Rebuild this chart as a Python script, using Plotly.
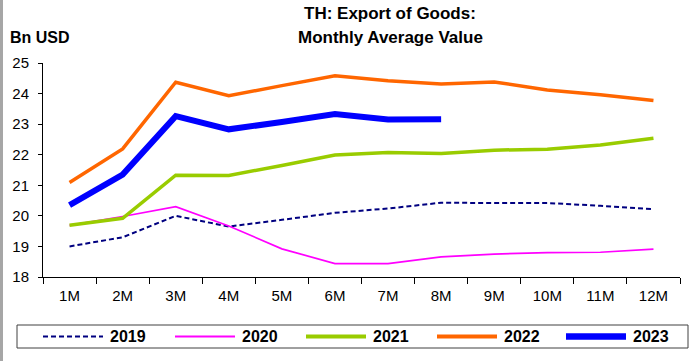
import plotly.graph_objects as go

months = ["1M", "2M", "3M", "4M", "5M", "6M", "7M", "8M", "9M", "10M", "11M", "12M"]

exp_2019 = [19.0, 19.3, 20.0, 19.65, 19.87, 20.1, 20.24, 20.43, 20.42, 20.42, 20.33, 20.22]
exp_2020 = [19.69, 19.98, 20.3, 19.67, 18.92, 18.44, 18.44, 18.66, 18.75, 18.8, 18.81, 18.91]
exp_2021 = [19.69, 19.92, 21.33, 21.32, 21.65, 21.99, 22.07, 22.04, 22.15, 22.18, 22.32, 22.54]
exp_2022 = [21.09, 22.19, 24.37, 23.93, 24.26, 24.58, 24.42, 24.31, 24.38, 24.12, 23.96, 23.77]
exp_2023 = [20.35, 21.35, 23.26, 22.83, 23.07, 23.33, 23.15, 23.16]

years = ["2019", "2020", "2021", "2022", "2023"]
series = [exp_2019, exp_2020, exp_2021, exp_2022, exp_2023]
colors = ["#000080", "#ff00ff", "#99cc00", "#ff6600", "#0000ff"]
widths = [2, 1.7, 3.5, 3.5, 6]
dashes = ["5px,3px", "solid", "solid", "solid", "solid"]

FONT = "Liberation Sans, Arial, sans-serif"

# figure geometry (pixels)
W, H = 691, 361
L, R, T, B = 43, 11, 63, 84
PW, PH = W - L - R, H - T - B


def px(x):
    return (x - L) / PW


def py(y):
    return (H - B - y) / PH


fig = go.Figure()
for name, vals, c, w, d in zip(years, series, colors, widths, dashes):
    fig.add_trace(go.Scatter(x=months[:len(vals)], y=vals, name=name, mode="lines",
                             line=dict(color=c, width=w, dash=d), showlegend=False))

shapes = [
    # frame edge on the left
    dict(type="line", xref="paper", yref="paper",
         x0=px(1.5), x1=px(1.5), y0=py(H), y1=py(0),
         line=dict(color="#a6a6a6", width=3)),
    # legend box
    dict(type="rect", xref="paper", yref="paper",
         x0=px(17), x1=px(688), y0=py(348), y1=py(325),
         line=dict(color="#404040", width=1), fillcolor="white"),
]
annotations = [
    dict(text="<b>TH: Export of Goods:</b>", xref="paper", yref="paper",
         x=px(390), y=py(14), xanchor="center", yanchor="middle",
         showarrow=False, font=dict(size=17)),
    dict(text="<b>Monthly Average Value</b>", xref="paper", yref="paper",
         x=px(390), y=py(37), xanchor="center", yanchor="middle",
         showarrow=False, font=dict(size=17)),
    dict(text="<b>Bn USD</b>", xref="paper", yref="paper",
         x=px(8), y=py(38), xanchor="left", yanchor="middle",
         showarrow=False, font=dict(size=16)),
]

# legend entries: sample line followed by the year
leg_x = [43, 175, 306, 437, 566]
leg_y = 336.5
for name, c, w, d, x0 in zip(years, colors, widths, dashes, leg_x):
    shapes.append(dict(type="line", xref="paper", yref="paper",
                       x0=px(x0), x1=px(x0 + 60), y0=py(leg_y), y1=py(leg_y),
                       line=dict(color=c, width=max(w, 2) + (0.5 if w >= 3.5 else 0), dash=d)))
    annotations.append(dict(text="<b>" + name + "</b>", xref="paper", yref="paper",
                            x=px(x0 + 65), y=py(leg_y), xanchor="left", yanchor="middle",
                            showarrow=False, font=dict(size=16)))

fig.update_layout(
    width=W, height=H,
    margin=dict(l=L, r=R, t=T, b=B, autoexpand=False),
    paper_bgcolor="white", plot_bgcolor="white",
    font=dict(family=FONT, size=15, color="black"),
    showlegend=False,
    xaxis=dict(
        type="category", range=[-0.5, 11.5],
        showline=True, linecolor="black", linewidth=1,
        ticks="outside", ticklen=6, tickcolor="black", tickson="boundaries",
        ticklabelstandoff=5,
        showgrid=False, tickfont=dict(size=15),
    ),
    yaxis=dict(
        range=[18, 25], dtick=1,
        showline=True, linecolor="black", linewidth=1,
        ticks="outside", ticklen=4, tickcolor="black",
        ticklabelstandoff=6,
        showgrid=False, zeroline=False, tickfont=dict(size=15),
    ),
    shapes=shapes,
    annotations=annotations,
)

fig.write_html("out.html")
